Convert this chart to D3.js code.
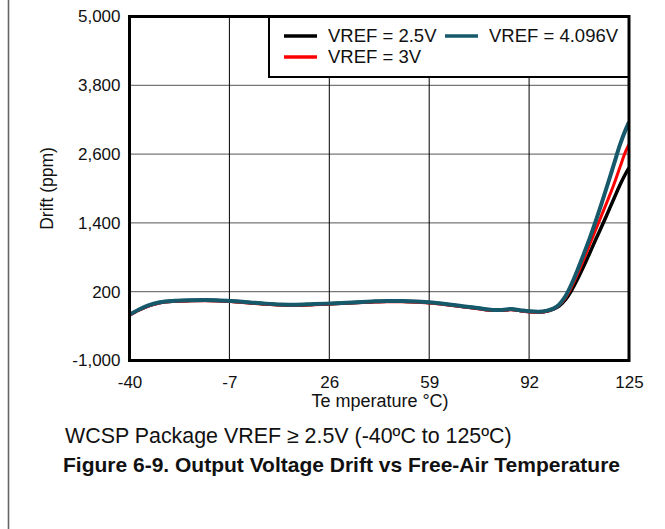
<!DOCTYPE html>
<html>
<head>
<meta charset="utf-8">
<script src="https://cdn.jsdelivr.net/npm/d3@7"></script>
<style>
  html, body { margin: 0; padding: 0; background: #fff; }
  svg { display: block; font-family: Arial, "Liberation Sans", sans-serif; }
</style>
</head>
<body>
<svg id="chart" width="665" height="529"></svg>
<script>
// ---- Data ----
const temps = [-40, -37, -34, -30, -25, -20, -15, -10, -5, 0, 5, 10, 15, 20, 25, 30, 35, 40, 45, 50, 55, 60, 65, 70, 75, 80, 83, 86, 89, 92, 95, 98, 100, 102, 104, 106, 108, 110, 112, 114, 116, 118, 120, 122, 124, 125];

const drift4096 = [-200, -115, -45, 15, 42, 52, 55, 48, 33, 12, -8, -22, -26, -18, -8, 5, 18, 30, 38, 37, 28, 10, -20, -52, -85, -118, -118, -102, -122, -142, -150, -130, -95, -20, 120, 330, 580, 850, 1130, 1430, 1750, 2080, 2420, 2760, 3040, 3160];
const drift3 = [-212, -127, -57, 3, 30, 40, 43, 36, 21, 0, -20, -34, -38, -30, -20, -7, 6, 18, 26, 25, 16, -2, -32, -64, -97, -130, -130, -114, -134, -154, -160, -140, -100, -35, 90, 280, 510, 760, 1020, 1280, 1540, 1800, 2070, 2370, 2660, 2770];
const drift25 = [-205, -120, -50, 10, 37, 47, 50, 43, 28, 7, -13, -27, -31, -23, -13, 0, 13, 25, 33, 32, 23, 5, -25, -57, -90, -123, -123, -107, -127, -147, -155, -138, -105, -45, 60, 220, 420, 640, 870, 1110, 1340, 1580, 1820, 2060, 2270, 2360];

const seriesNames = ["VREF = 2.5V", "VREF = 3V", "VREF = 4.096V"];
const seriesColors = ["#000000", "#ff0000", "#16596b"];
const seriesData = [drift25, drift3, drift4096];

const xTicks = [-40, -7, 26, 59, 92, 125];
const yTicks = [-1000, 200, 1400, 2600, 3800, 5000];

const xTitle = "Te mperature °C)";
const yTitle = "Drift (ppm)";
const subTitle = "WCSP Package VREF ≥ 2.5V (-40ºC to 125ºC)";
const figTitle = "Figure 6-9. Output Voltage Drift vs Free-Air Temperature";

// ---- Layout ----
const svg = d3.select("#chart");
const L = 129.5, R = 629, T = 16.5, B = 360.5;
const FONT = "Arial, 'Liberation Sans', sans-serif";

const x = d3.scaleLinear().domain([-40, 125]).range([L, R]);
const y = d3.scaleLinear().domain([-1000, 5000]).range([B, T]);
const hy = s => String(s).replace(/\u2212/g, "-");

// page left rule
svg.append("line").attr("x1", 8.5).attr("x2", 8.5).attr("y1", 0).attr("y2", 529)
  .attr("stroke", "#666").attr("stroke-width", 1.6);

// clip
svg.append("clipPath").attr("id", "plotclip")
  .append("rect").attr("x", L).attr("y", T).attr("width", R - L).attr("height", B - T);

// gridlines
const grid = svg.append("g");
grid.selectAll("line.h").data(yTicks.slice(1, -1)).enter().append("line")
  .attr("x1", L).attr("x2", R).attr("y1", d => y(d)).attr("y2", d => y(d))
  .attr("stroke", "#555").attr("stroke-width", 1);
grid.selectAll("line.v").data(xTicks.slice(1, -1)).enter().append("line")
  .attr("y1", T).attr("y2", B).attr("x1", d => x(d)).attr("x2", d => x(d))
  .attr("stroke", "#000").attr("stroke-width", 1);

// series
const line = d3.line().x((d, i) => x(temps[i])).y(d => y(d)).curve(d3.curveMonotoneX);
const widths = [3.5, 3, 4];
const lg = svg.append("g").attr("clip-path", "url(#plotclip)");
seriesData.forEach((s, k) => {
  lg.append("path").attr("d", line(s)).attr("fill", "none")
    .attr("stroke", seriesColors[k]).attr("stroke-width", widths[k])
    .attr("stroke-linejoin", "round");
});

// legend
const leg = svg.append("g");
leg.append("rect").attr("x", 269).attr("y", T).attr("width", R - 269).attr("height", 77 - T)
  .attr("fill", "#fff").attr("stroke", "#000").attr("stroke-width", 2);
const legPos = [
  {sx: 284, ty: 36, tx: 328},
  {sx: 284, ty: 57, tx: 328},
  {sx: 445, ty: 36, tx: 489}
];
seriesNames.forEach((n, k) => {
  const p = legPos[k];
  leg.append("line").attr("x1", p.sx).attr("x2", p.sx + 33).attr("y1", p.ty).attr("y2", p.ty)
    .attr("stroke", seriesColors[k]).attr("stroke-width", 3.5);
  leg.append("text").attr("x", p.tx).attr("y", p.ty).attr("dy", "0.35em")
    .attr("font-size", 18.5).attr("fill", "#111").text(n);
});

// plot frame
svg.append("rect").attr("x", L).attr("y", T).attr("width", R - L).attr("height", B - T)
  .attr("fill", "none").attr("stroke", "#000").attr("stroke-width", 3);

// axes labels (using d3 axes, domain and ticks hidden)
const yAxis = svg.append("g").attr("transform", `translate(${L},0)`)
  .call(d3.axisLeft(y).tickValues(yTicks).tickFormat(d => hy(d3.format(",")(d))).tickSize(0).tickPadding(9));
yAxis.attr("font-size", 17).attr("font-family", FONT);
yAxis.select(".domain").remove();
yAxis.selectAll("text").attr("fill", "#111");

const xAxis = svg.append("g").attr("transform", `translate(0,${B})`)
  .call(d3.axisBottom(x).tickValues(xTicks).tickFormat(d => hy(d3.format("d")(d))).tickSize(0).tickPadding(15));
xAxis.attr("font-size", 17).attr("font-family", FONT);
xAxis.select(".domain").remove();
xAxis.selectAll("text").attr("fill", "#111");

// titles
svg.append("text").attr("x", 380).attr("y", 401).attr("dy", "0.35em")
  .attr("text-anchor", "middle").attr("font-size", 18).attr("fill", "#111").text(xTitle);
svg.append("text").attr("transform", `translate(47,${(T + B) / 2}) rotate(-90)`)
  .attr("dy", "0.35em").attr("text-anchor", "middle").attr("font-size", 17.5).attr("fill", "#111").text(yTitle);
svg.append("text").attr("x", 65).attr("y", 436).attr("dy", "0.35em")
  .attr("font-size", 21.4).attr("fill", "#111").text(subTitle);
svg.append("text").attr("x", 63).attr("y", 465).attr("dy", "0.35em")
  .attr("font-size", 21).attr("font-weight", "bold").attr("fill", "#111").text(figTitle);
</script>
</body>
</html>
